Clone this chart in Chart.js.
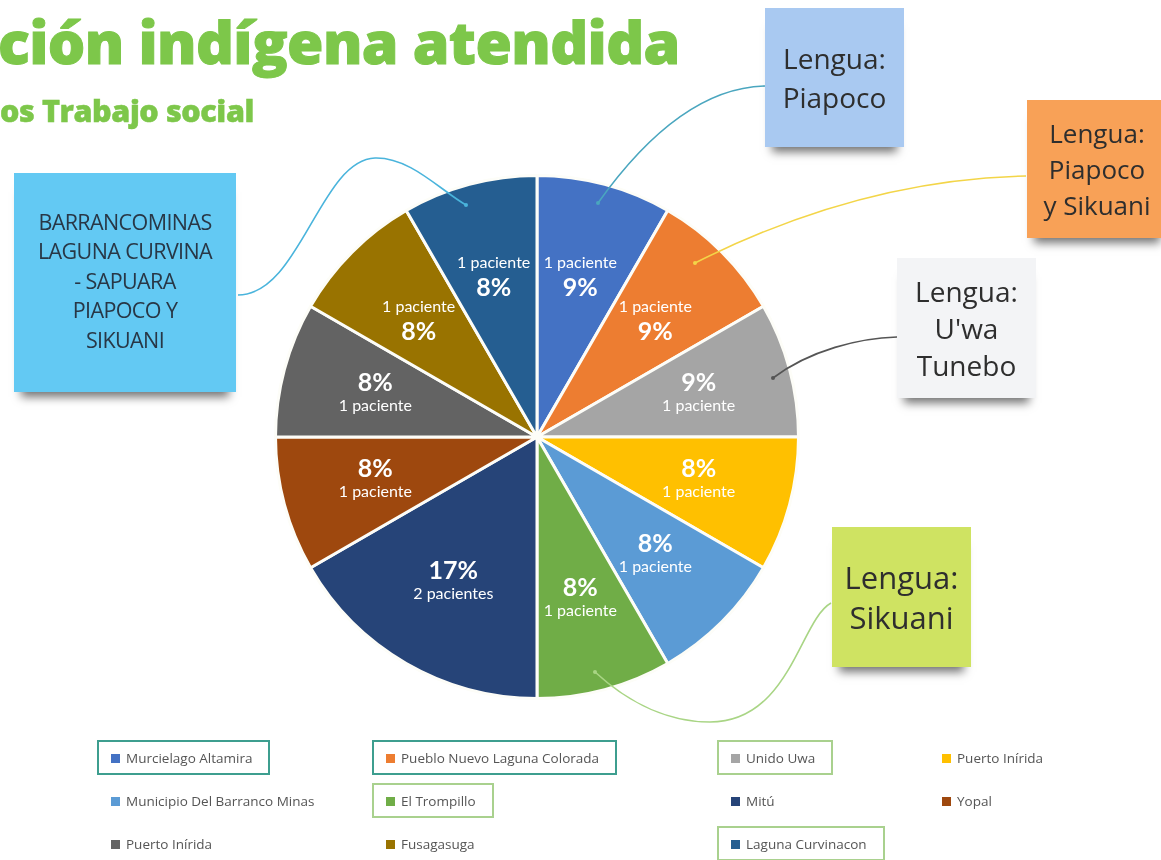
<!DOCTYPE html>
<html>
    <head>
        <title>Población indígena atendida</title>
        <meta charset="UTF-8">
        <style>
          body { margin: 0; background: #fff; overflow: hidden; width: 1161px; height: 860px; position: relative; font-family: "Open Sans", sans-serif; }
          #pieChart { position: absolute; left: 0; top: 0; }
          #links { position: absolute; left: 0; top: 0; }
          .title { position: absolute; left: -2px; top: 1px; color: #7dc74a; font-family: "Open Sans", sans-serif; font-weight: 800; font-size: 59px; white-space: nowrap; letter-spacing: -0.6px; -webkit-text-stroke: 1px #7dc74a; }
          .subtitle { position: absolute; left: 0; top: 89px; color: #7dc74a; font-family: "Open Sans", sans-serif; font-weight: 800; font-size: 30.5px; white-space: nowrap; letter-spacing: -0.4px; -webkit-text-stroke: 0.5px #7dc74a; }
          .note { position: absolute; display: flex; align-items: center; justify-content: center; text-align: center; color: #2e2e2e; box-shadow: 0 12px 9px -7px rgba(0,0,0,0.55); }
          .lg-item { position: absolute; height: 20px; line-height: 20px; font-family: "Open Sans", sans-serif; font-size: 13.5px; color: #555; white-space: nowrap; }
          .lg-item span.sw { display: inline-block; width: 9px; height: 9px; margin-right: 6px; vertical-align: 0px; }
          .frame { position: absolute; border: 2px solid; box-sizing: border-box; }
        </style>
    </head>
    <body>
        <canvas id="pieChart" width="1161" height="860"></canvas>
        <svg id="links" width="1161" height="860"></svg>
        <div class="title">ción indígena atendida</div>
        <div class="subtitle">os Trabajo social</div>
        <div id="legend"></div>

        <script src="https://cdn.jsdelivr.net/npm/chart.js/dist/chart.umd.min.js"></script>
        <script>

          //****************************** data ******************************//
          const comunidades = ['Murcielago Altamira', 'Pueblo Nuevo Laguna Colorada', 'Unido Uwa', 'Puerto Inírida',
                               'Municipio Del Barranco Minas', 'El Trompillo', 'Mitú', 'Yopal',
                               'Puerto Inírida', 'Fusagasuga', 'Laguna Curvinacon'];
          const pacientes = [1, 1, 1, 1, 1, 1, 2, 1, 1, 1, 1];
          const porcentajes = ['9%', '9%', '9%', '8%', '8%', '8%', '17%', '8%', '8%', '8%', '8%'];
          const colores = ['#4472C4', '#ED7D31', '#A5A5A5', '#FFC000', '#5B9BD5', '#70AD47',
                           '#264478', '#9E480E', '#636363', '#997300', '#255E91'];
          // legend items framed in the reference (index -> frame colour)
          const resaltados = [[0, '#3d9e8f'], [1, '#3d9e8f'], [2, '#a9d18e'], [5, '#a9d18e'], [10, '#a9d18e']];

          // sticky notes
          const notas = [
            { texto: ['Lengua:', 'Piapoco'], color: '#a9c9f1' },
            { texto: ['Lengua:', 'Piapoco', 'y Sikuani'], color: '#f8a157' },
            { texto: ['Lengua:', "U'wa", 'Tunebo'], color: '#f3f4f6' },
            { texto: ['Lengua:', 'Sikuani'], color: '#cfe362' },
            { texto: ['BARRANCOMINAS', 'LAGUNA CURVINA', '- SAPUARA', 'PIAPOCO Y', 'SIKUANI'], color: '#63c9f3' }
          ];

          //****************************** pie labels ******************************//
          const sliceLabels = {
            id: 'sliceLabels',
            afterDatasetsDraw(chart) {
              const ctx = chart.ctx;
              const arcs = chart.getDatasetMeta(0).data;
              ctx.save();
              ctx.fillStyle = '#ffffff';
              ctx.textAlign = 'center';
              ctx.textBaseline = 'middle';
              arcs.forEach((arc, i) => {
                const mid = (arc.startAngle + arc.endAngle) / 2;
                const r = arc.outerRadius * 0.64;
                const x = arc.x + Math.cos(mid) * r;
                const y = arc.y + Math.sin(mid) * r;
                const nombre = pacientes[i] + (pacientes[i] > 1 ? ' pacientes' : ' paciente');
                const arriba = (y - arc.y) < -0.3 * arc.outerRadius; // top slices: text first
                const yPct = arriba ? y + 13 : y - 11;
                const yTxt = arriba ? y - 12 : y + 12;
                ctx.font = 'bold 25px Lato';
                ctx.fillText(porcentajes[i], x, yPct);
                ctx.font = '16px Lato';
                ctx.fillText(nombre, x, yTxt);
              });
              ctx.restore();
            }
          };

          const CHART = document.getElementById('pieChart');
          let pieChart = new Chart(CHART, {
            type: 'pie',
            data: {
              labels: comunidades,
              datasets: [{
                data: pacientes,
                backgroundColor: colores,
                borderColor: '#fdfdf8',
                borderWidth: 3
              }]
            },
            options: {
              responsive: false,
              animation: false,
              layout: { padding: { left: 274, top: 174, right: 361, bottom: 160 } },
              plugins: {
                legend: { display: false },
                tooltip: { enabled: false }
              }
            },
            plugins: [sliceLabels]
          });

          //****************************** legend (html) ******************************//
          const colX = [111, 386, 731, 942];
          const rowY = [748, 791, 834];
          const legend = document.getElementById('legend');
          comunidades.forEach((nombre, i) => {
            const item = document.createElement('div');
            item.className = 'lg-item';
            item.style.left = colX[i % 4] + 'px';
            item.style.top = rowY[Math.floor(i / 4)] + 'px';
            item.innerHTML = '<span class="sw" style="background:' + colores[i] + '"></span>' + nombre;
            legend.appendChild(item);
          });
          resaltados.forEach(([i, c]) => {
            const item = legend.children[i];
            const f = document.createElement('div');
            f.className = 'frame';
            f.style.borderColor = c;
            f.style.left = (item.offsetLeft - 14) + 'px';
            f.style.top = (item.offsetTop - 8) + 'px';
            f.style.width = (item.offsetWidth + 32) + 'px';
            f.style.height = '35px';
            legend.appendChild(f);
          });

          //****************************** sticky notes ******************************//
          const cajas = [
            { x: 765, y: 8, w: 139, h: 139, fs: 28, lh: 39 },
            { x: 1027, y: 100, w: 140, h: 138, fs: 26, lh: 36 },
            { x: 897, y: 258, w: 139, h: 140, fs: 28, lh: 37 },
            { x: 832, y: 527, w: 139, h: 140, fs: 31, lh: 40 },
            { x: 14, y: 173, w: 222, h: 215, fs: 21.5, lh: 29.5 }
          ];
          notas.forEach((n, i) => {
            const c = cajas[i];
            const d = document.createElement('div');
            d.className = 'note';
            d.style.left = c.x + 'px'; d.style.top = c.y + 'px';
            d.style.width = c.w + 'px'; d.style.height = c.h + 'px';
            d.style.background = n.color;
            d.style.fontSize = c.fs + 'px'; d.style.lineHeight = c.lh + 'px';
            if (i === 4) { d.style.letterSpacing = '-0.6px'; d.style.color = '#283746'; d.style.paddingBottom = '4px'; }
            d.innerHTML = '<div>' + n.texto.join('<br>') + '</div>';
            document.body.appendChild(d);
          });

          // connector curves from notes to slices
          const enlaces = [
            ['M765,86 Q680,88 598,203', '#4aa6bf', [598, 203]],
            ['M1026,176 C930,178 820,200 695,263', '#f3d548', [695, 263]],
            ['M897,337 C860,338 810,350 773,378', '#555555', [773, 378]],
            ['M831,603 C800,620 790,722 710,722 C660,722 620,695 595,672', '#a9d585', [595, 672]],
            ['M238,295 C300,295 320,160 375,158 C410,157 440,190 466,205', '#4ab4dc', [466, 205]]
          ];
          const svg = document.getElementById('links');
          let s = '';
          enlaces.forEach(([p, c, e]) => {
            s += '<path d="' + p + '" fill="none" stroke="' + c + '" stroke-width="1.6"/>';
            s += '<circle cx="' + e[0] + '" cy="' + e[1] + '" r="2" fill="' + c + '"/>';
          });
          svg.innerHTML = s;

        </script>
    </body>
</html>
